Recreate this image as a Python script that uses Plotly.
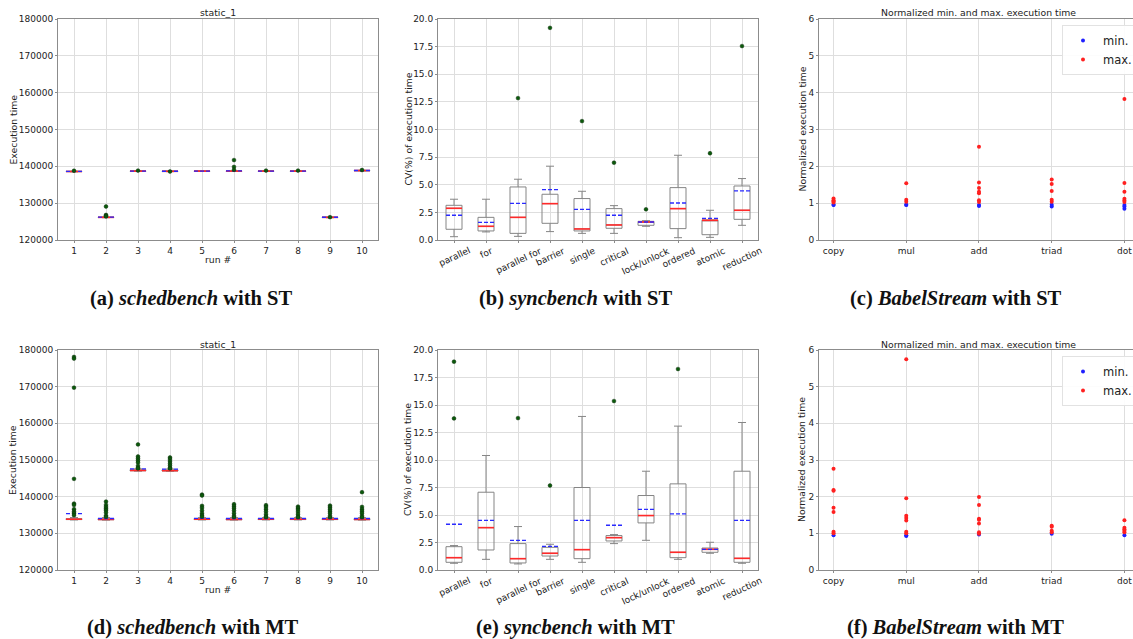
import plotly.graph_objects as go

W, H = 1133, 639

# ---------------- data ----------------
runs = [1, 2, 3, 4, 5, 6, 7, 8, 9, 10]

# (a) schedbench ST
a_med = [138600, 126150, 138700, 138650, 138700, 138700, 138700, 138700, 126150, 138850]
a_mean = [138620, 126200, 138720, 138670, 138720, 138780, 138720, 138720, 126170, 138870]
a_q1 = [138550, 126100, 138650, 138600, 138650, 138650, 138650, 138650, 126100, 138800]
a_q3 = [138650, 126200, 138750, 138700, 138750, 138750, 138750, 138750, 126200, 138900]
a_low = [138500, 126050, 138600, 138550, 138600, 138600, 138600, 138600, 126050, 138750]
a_high = [138700, 126250, 138800, 138750, 138800, 138800, 138800, 138800, 126250, 138950]
a_out_x = [1, 2, 2, 2, 2, 3, 4, 6, 6, 6, 7, 8, 9, 10]
a_out_y = [138800, 129100, 126800, 126600, 126400, 138850, 138600, 141700, 139850, 139050,
           138850, 138850, 126200, 139000]

# (d) schedbench MT
d_med = [133850, 133800, 147150, 147100, 133850, 133800, 133850, 133850, 133850, 133800]
d_mean = [135400, 134050, 147600, 147500, 134100, 134050, 134050, 134050, 134050, 134050]
d_q1 = [133750, 133700, 147050, 147000, 133750, 133700, 133750, 133750, 133750, 133700]
d_q3 = [134000, 134000, 147350, 147300, 134000, 134000, 134000, 134000, 134000, 134000]
d_low = [133650, 133600, 146950, 146900, 133650, 133600, 133650, 133650, 133650, 133600]
d_high = [134300, 134300, 147600, 147550, 134300, 134300, 134300, 134300, 134300, 134300]
d_out_x = ([1] * 10 + [2] * 8 + [3] * 8 + [4] * 7 + [5] * 8 + [6] * 7 + [7] * 7 +
           [8] * 7 + [9] * 7 + [10] * 7)
d_out_y = [178100, 177650, 169730, 144860, 138120, 137760, 136580, 135940, 135480, 134940,
           138670, 137760, 137210, 136760, 136300, 135670, 134850, 134500,
           154240, 150960, 150420, 149870, 149320, 148410, 147870, 147700,
           150690, 150240, 149690, 149050, 148500, 147870, 147700,
           140580, 140310, 137490, 136940, 136210, 135480, 134940, 134550,
           137940, 137400, 136850, 136210, 135480, 134760, 134450,
           137670, 137210, 136580, 135940, 135210, 134580, 134400,
           137300, 136850, 136390, 135850, 135210, 134580, 134400,
           137580, 137120, 136580, 136030, 135480, 134760, 134400,
           141220, 137210, 136580, 136030, 135480, 134760, 134400]

# (b) syncbench ST
constructs = ["parallel", "for", "parallel for", "barrier", "single", "critical",
              "lock/unlock", "ordered", "atomic", "reduction"]
b_low = [0.30, 0.73, 0.33, 0.76, 0.60, 0.60, 1.24, 0.21, 0.24, 1.33]
b_q1 = [0.97, 0.82, 0.60, 1.51, 0.82, 1.06, 1.33, 1.03, 0.48, 1.87]
b_med = [2.87, 1.24, 2.05, 3.29, 1.00, 1.36, 1.63, 2.84, 1.78, 2.69]
b_q3 = [3.14, 2.05, 4.80, 4.14, 3.75, 2.84, 1.69, 4.74, 1.82, 4.89]
b_high = [3.69, 3.69, 5.50, 6.68, 4.41, 3.11, 1.75, 7.67, 2.69, 5.56]
b_mean = [2.24, 1.60, 3.32, 4.56, 2.78, 2.24, 1.63, 3.35, 1.96, 4.44]
b_out_x = [3, 4, 5, 6, 7, 9, 10]
b_out_y = [12.84, 19.2, 10.76, 7.0, 2.78, 7.85, 17.55]

# (e) syncbench MT
e_low = [0.61, 0.97, 0.55, 0.97, 0.70, 2.40, 2.70, 0.97, 1.52, 0.61]
e_q1 = [0.70, 1.82, 0.64, 1.27, 1.03, 2.64, 4.28, 1.12, 1.61, 0.70]
e_med = [1.12, 3.85, 1.03, 1.52, 1.85, 2.94, 4.95, 1.61, 1.88, 1.06]
e_q3 = [2.12, 7.07, 2.40, 2.06, 7.50, 3.13, 6.77, 7.83, 2.00, 8.98]
e_high = [2.22, 10.41, 3.95, 2.34, 13.96, 3.22, 8.98, 13.08, 2.52, 13.41]
e_mean = [4.16, 4.52, 2.70, 2.15, 4.52, 4.07, 5.52, 5.10, 1.88, 4.52]
e_out_x = [1, 1, 3, 4, 6, 8]
e_out_y = [18.94, 13.78, 13.81, 7.68, 15.36, 18.27]

# (c) BabelStream ST
kernels = ["copy", "mul", "add", "triad", "dot"]
c_max_k = ["copy"] * 4 + ["mul"] * 3 + ["add"] * 7 + ["triad"] * 5 + ["dot"] * 6
c_max_v = [1.13, 1.08, 1.05, 1.02,
           1.54, 1.09, 1.04,
           2.53, 1.56, 1.41, 1.31, 1.27, 1.08, 1.03,
           1.64, 1.52, 1.33, 1.09, 1.04,
           3.83, 1.55, 1.31, 1.12, 1.07, 1.03]
c_min_k = ["copy", "copy", "mul", "mul", "add", "add", "triad", "triad", "dot", "dot", "dot"]
c_min_v = [0.95, 0.96, 0.95, 0.96, 0.95, 0.92, 0.96, 0.91, 0.95, 0.91, 0.85]

# (f) BabelStream MT
f_max_k = ["copy"] * 7 + ["mul"] * 7 + ["add"] * 7 + ["triad"] * 4 + ["dot"] * 5
f_max_v = [2.76, 2.18, 2.16, 1.70, 1.58, 1.04, 1.00,
           5.75, 1.96, 1.48, 1.42, 1.35, 1.04, 1.00,
           1.99, 1.77, 1.40, 1.37, 1.27, 1.03, 0.99,
           1.21, 1.18, 1.07, 1.03,
           1.36, 1.15, 1.11, 1.07, 1.03]
f_min_k = ["copy", "mul", "mul", "add", "triad", "dot"]
f_min_v = [0.95, 0.93, 0.95, 0.97, 0.99, 0.95]

# ---------------- style ----------------
BOX_C = "#858585"
MED_C = "#ff2a2a"
MEAN_C = "#2a2aff"
OUT_C = "#0a5a0a"
GRID_C = "#dedede"
SPINE_C = "#8c8c8c"
FONT = "DejaVu Sans"
TICK_F = dict(family=FONT, size=9, color="#222")
LAB_F = dict(family=FONT, size=9.3, color="#222")
HALF = 0.25

def px_x(p):
    return p / W

def px_y(p):
    return 1 - p / H

col_x = [(58, 378), (438, 758), (819, 1133)]
row_y = [(19, 240), (350, 570)]
ytitle_x = [13, 408, 802]
title_y = [13, 344]
runlabel_y = [259, 589]

fig = go.Figure()

def seg(pos, vals):
    xs, ys = [], []
    for p, v in zip(pos, vals):
        xs += [p - HALF, p + HALF, None]
        ys += [v, v, None]
    return xs, ys

def add_box_panel(n, low, q1, med, q3, high, mean, ox, oy):
    xa, ya = f"x{n}", f"y{n}"
    fig.add_trace(go.Box(x=runs, q1=q1, median=med, q3=q3, lowerfence=low, upperfence=high,
                         width=0.5, whiskerwidth=0.5, boxpoints=False,
                         line=dict(color=BOX_C, width=1), fillcolor="rgba(0,0,0,0)",
                         xaxis=xa, yaxis=ya, showlegend=False, hoverinfo="skip"))
    mx, my = seg(runs, med)
    fig.add_trace(go.Scatter(x=mx, y=my, mode="lines", line=dict(color=MED_C, width=1.6),
                             xaxis=xa, yaxis=ya, showlegend=False, hoverinfo="skip"))
    ax_, ay_ = seg(runs, mean)
    fig.add_trace(go.Scatter(x=ax_, y=ay_, mode="lines",
                             line=dict(color=MEAN_C, width=1.3, dash="4px,2px"),
                             xaxis=xa, yaxis=ya, showlegend=False, hoverinfo="skip"))
    fig.add_trace(go.Scatter(x=ox, y=oy, mode="markers",
                             marker=dict(color=OUT_C, size=3.8, line=dict(color="#103010", width=0.5)),
                             xaxis=xa, yaxis=ya, showlegend=False, hoverinfo="skip"))

add_box_panel(1, a_low, a_q1, a_med, a_q3, a_high, a_mean, a_out_x, a_out_y)
add_box_panel(2, b_low, b_q1, b_med, b_q3, b_high, b_mean, b_out_x, b_out_y)
add_box_panel(4, d_low, d_q1, d_med, d_q3, d_high, d_mean, d_out_x, d_out_y)
add_box_panel(5, e_low, e_q1, e_med, e_q3, e_high, e_mean, e_out_x, e_out_y)

def add_scatter_panel(n, mink, minv, maxk, maxv, legend):
    xa, ya = f"x{n}", f"y{n}"
    kmap = {k: i for i, k in enumerate(kernels)}
    fig.add_trace(go.Scatter(x=[kmap[k] for k in mink], y=minv, mode="markers", name="min.",
                             marker=dict(color="#1f1fff", size=4),
                             xaxis=xa, yaxis=ya, legend=legend, hoverinfo="skip"))
    fig.add_trace(go.Scatter(x=[kmap[k] for k in maxk], y=maxv, mode="markers", name="max.",
                             marker=dict(color="#ff2020", size=4),
                             xaxis=xa, yaxis=ya, legend=legend, hoverinfo="skip"))

add_scatter_panel(3, c_min_k, c_min_v, c_max_k, c_max_v, "legend")
add_scatter_panel(6, f_min_k, f_min_v, f_max_k, f_max_v, "legend2")

layout = dict(width=W, height=H, margin=dict(l=0, r=0, t=0, b=0, autoexpand=False),
              paper_bgcolor="white", plot_bgcolor="white", boxmode="overlay")

ytitles = ["Execution time", "CV(%) of execution time", "Normalized execution time"]
annos = []
panels = {1: (0, 0), 2: (1, 0), 3: (2, 0), 4: (0, 1), 5: (1, 1), 6: (2, 1)}
for n, (c, r) in panels.items():
    x0, x1 = col_x[c]
    y0, y1 = row_y[r]
    xd = [px_x(x0), px_x(x1)]
    yd = [px_y(y1), px_y(y0)]
    sfx = "" if n == 1 else str(n)
    xax = dict(domain=xd, anchor=f"y{n}", showgrid=True, gridcolor=GRID_C, gridwidth=1,
               showline=True, linecolor=SPINE_C, linewidth=1, mirror=True, automargin=False,
               ticks="outside", ticklen=2, tickcolor=SPINE_C, tickfont=TICK_F, zeroline=False)
    yax = dict(domain=yd, anchor=f"x{n}", showgrid=True, gridcolor=GRID_C, gridwidth=1,
               showline=True, linecolor=SPINE_C, linewidth=1, mirror=True, automargin=False,
               ticks="outside", ticklen=2, tickcolor=SPINE_C, tickfont=TICK_F, zeroline=False)
    # y-axis title
    annos.append(dict(text=ytitles[c], x=px_x(ytitle_x[c]), y=px_y((y0 + y1) / 2),
                      xref="paper", yref="paper", xanchor="center", yanchor="middle",
                      textangle=-90, showarrow=False, font=LAB_F))
    if c == 0:
        xax.update(range=[0.5, 10.5], tickvals=runs, ticktext=[str(v) for v in runs])
        yax.update(range=[120000, 180000], dtick=10000, tickformat="d")
        annos.append(dict(text="run #", x=px_x(218), y=px_y(runlabel_y[r]), xref="paper",
                          yref="paper", xanchor="center", yanchor="middle", showarrow=False,
                          font=LAB_F))
        annos.append(dict(text="static_1", x=px_x(218), y=px_y(title_y[r]), xref="paper",
                          yref="paper", xanchor="center", yanchor="middle", showarrow=False,
                          font=LAB_F))
    elif c == 1:
        xax.update(range=[0.5, 10.5], tickvals=runs, showticklabels=False)
        yax.update(range=[0, 20], dtick=2.5, tickformat=".1f")
        for pos, lab in zip(runs, constructs):
            annos.append(dict(text=lab, x=pos, xref=f"x{n}", y=px_y(y1), yref="paper",
                              xanchor="center", yanchor="top", yshift=-3, textangle=-25,
                              showarrow=False, font=TICK_F))
    else:
        xax.update(range=[-0.2, 4.118], tickvals=list(range(5)), ticktext=kernels, mirror=True)
        yax.update(range=[0, 6], dtick=1, mirror=False)
        annos.append(dict(text="Normalized min. and max. execution time", x=px_x(979),
                          y=px_y(title_y[r]), xref="paper", yref="paper", xanchor="center",
                          yanchor="middle", showarrow=False, font=LAB_F))
    layout["xaxis" + sfx] = xax
    layout["yaxis" + sfx] = yax

leg_common = dict(font=dict(family=FONT, size=11.5, color="#222"),
                  bgcolor="rgba(255,255,255,0.9)", bordercolor="#e2e2e2", borderwidth=1,
                  xanchor="left", yanchor="top", itemwidth=30, tracegroupgap=0)
layout["legend"] = dict(x=px_x(1062), y=px_y(25), **leg_common)
layout["legend2"] = dict(x=px_x(1062), y=px_y(356), **leg_common)

captions = [("(a)", "schedbench", "ST", 191, 298), ("(b)", "syncbench", "ST", 575, 298),
            ("(c)", "BabelStream", "ST", 956, 298), ("(d)", "schedbench", "MT", 193, 627),
            ("(e)", "syncbench", "MT", 575, 627), ("(f)", "BabelStream", "MT", 955, 627)]
for lab, name, mode, cx, cy in captions:
    annos.append(dict(text=f"<b>{lab} <i>{name}</i> with {mode}</b>", x=px_x(cx), y=px_y(cy),
                      xref="paper", yref="paper", xanchor="center", yanchor="middle",
                      showarrow=False, font=dict(family="Liberation Serif", size=20.5, color="#111")))
layout["annotations"] = annos

fig.update_layout(**layout)
fig.write_html("out.html", config={"displayModeBar": False},
               post_script="document.body.style.margin='0';document.body.style.overflow='hidden';")
